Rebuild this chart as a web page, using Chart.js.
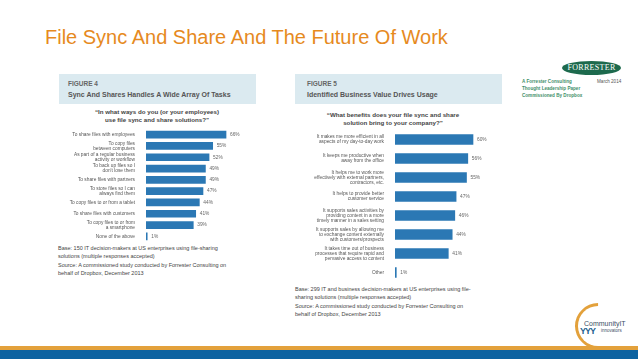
<!DOCTYPE html>
<html>
<head>
<meta charset="utf-8">
<script src="https://cdn.jsdelivr.net/npm/chart.js@4.4.1/dist/chart.umd.min.js"></script>
<style>
  body { margin: 0; width: 638px; height: 359px; background: #fff; position: relative; overflow: hidden;
         font-family: "Liberation Sans", Arial, sans-serif; }
  .abs { position: absolute; }
  #title { left: 45px; top: 26px; font-size: 20px; color: #e68a1e; white-space: nowrap; }
  .figbox { background: #dbeaf0; }
  .fignum { font-size: 6.5px; font-weight: bold; color: #666; white-space: nowrap; }
  .figttl { font-size: 7px; font-weight: bold; color: #555; white-space: nowrap; }
  .question { font-size: 6.2px; font-weight: bold; color: #444; text-align: center; line-height: 8px; white-space: nowrap; }
  .note { font-size: 5.5px; color: #444; line-height: 8.2px; white-space: nowrap; }
  #forr { left: 562px; top: 61px; width: 59px; height: 14px; border-radius: 50%; background: #1d6a4d;
          color: #fff; font-family: "Liberation Serif", serif; font-size: 8px; text-align: center; line-height: 14px; letter-spacing: 0.3px; }
  .forrsub { font-size: 4.6px; color: #3f8f6a; font-weight: bold; white-space: nowrap; }
  #ring { left: 575px; top: 303px; width: 40px; height: 40px; border-radius: 50%; border: 3px solid #e3a13b;
          border-right-color: transparent; border-top-color: transparent; transform: rotate(45deg); }
</style>
</head>
<body>
<div id="title" class="abs">File Sync And Share And The Future Of Work</div>

<div class="abs figbox" style="left:59px;top:74px;width:197px;height:30px;"></div>
<div class="abs fignum" style="left:68px;top:80px;">FIGURE 4</div>
<div class="abs figttl" style="left:68px;top:91px;">Sync And Shares Handles A Wide Array Of Tasks</div>
<div class="abs question" style="left:77px;top:108px;width:160px;">“In what ways do you (or your employees)<br>use file sync and share solutions?”</div>
<div class="abs" style="left:60px;top:129px;width:200px;height:113px;"><canvas id="fig4"></canvas></div>
<div class="abs note" style="left:58px;top:244px;">Base: 150 IT decision-makers at US enterprises using file-sharing<br>solutions (multiple responses accepted)</div>
<div class="abs note" style="left:58px;top:261px;">Source: A commissioned study conducted by Forrester Consulting on<br>behalf of Dropbox, December 2013</div>

<div class="abs figbox" style="left:295px;top:74px;width:207px;height:30px;"></div>
<div class="abs fignum" style="left:307px;top:80px;">FIGURE 5</div>
<div class="abs figttl" style="left:307px;top:91px;">Identified Business Value Drives Usage</div>
<div class="abs question" style="left:313px;top:111px;width:160px;">“What benefits does your file sync and share<br>solution bring to your company?”</div>
<div class="abs" style="left:300px;top:130px;width:219px;height:152px;"><canvas id="fig5"></canvas></div>
<div class="abs note" style="left:295px;top:285px;">Base: 299 IT and business decision-makers at US enterprises using file-<br>sharing solutions (multiple responses accepted)</div>
<div class="abs note" style="left:295px;top:302px;">Source: A commissioned study conducted by Forrester Consulting on<br>behalf of Dropbox, December 2013</div>

<div id="forr" class="abs">FORRESTER</div>
<div class="abs forrsub" style="left:522px;top:79px;">A Forrester Consulting</div>
<div class="abs forrsub" style="left:522px;top:86px;">Thought Leadership Paper</div>
<div class="abs forrsub" style="left:522px;top:93px;">Commissioned By Dropbox</div>
<div class="abs forrsub" style="left:597px;top:79px;color:#555;font-weight:normal;">March 2014</div>

<div id="ring" class="abs"></div>
<div class="abs" style="left:584px;top:320px;font-size:7px;color:#3b4f66;">CommunityIT</div>
<div class="abs" style="left:601px;top:328px;font-size:4.5px;color:#3b4f66;">innovators</div>
<div class="abs" style="left:580px;top:326px;font-size:9px;font-weight:bold;color:#1f5f8f;letter-spacing:-1px;">YYY</div>

<div class="abs" style="left:0;top:346px;width:638px;height:4px;background:#e3a13b;"></div>
<div class="abs" style="left:0;top:350px;width:638px;height:9px;background:#0d63a1;"></div>

<script>
// figure 4
const tasks = [
  'To share files with employees',
  ['To copy files', 'between computers'],
  ['As part of a regular business', 'activity or workflow'],
  ['To back up files so I', "don't lose them"],
  'To share files with partners',
  ['To store files so I can', 'always find them'],
  'To copy files to or from a tablet',
  'To share files with customers',
  ['To copy files to or from', 'a smartphone'],
  'None of the above'
];
const taskShares = [66, 55, 52, 49, 49, 47, 44, 41, 39, 1];

// figure 5
const benefits = [
  ['It makes me more efficient in all', 'aspects of my day-to-day work'],
  ['It keeps me productive when', 'away from the office'],
  ['It helps me to work more', 'effectively with external partners,', 'contractors, etc.'],
  ['It helps to provide better', 'customer service'],
  ['It supports sales activities by', 'providing content in a more', 'timely manner in a sales setting'],
  ['It supports sales by allowing me', 'to exchange content externally', 'with customers/prospects'],
  ['It takes time out of business', 'processes that require rapid and', 'pervasive access to content'],
  'Other'
];
const benefitShares = [60, 56, 55, 47, 46, 44, 41, 1];

const barColor = '#2b78b4';
const fontFam = '"Liberation Sans", Arial, sans-serif';

// puts "66%" after each bar
const valueLabels = {
  id: 'valueLabels',
  afterDatasetsDraw(chart) {
    const ctx = chart.ctx;
    const ds = chart.data.datasets[0];
    ctx.save();
    ctx.font = '4.8px ' + fontFam;
    ctx.fillStyle = '#666';
    ctx.textBaseline = 'middle';
    chart.getDatasetMeta(0).data.forEach((bar, i) => {
      ctx.fillText(ds.data[i] + '%', bar.x + 4, bar.y);
    });
    ctx.restore();
  }
};

function makeChart(id, labels, values, axisWidth, thickness, padRight) {
  return new Chart(document.getElementById(id), {
    type: 'bar',
    data: {
      labels: labels,
      datasets: [{ data: values, backgroundColor: barColor, barThickness: thickness }]
    },
    options: {
      indexAxis: 'y',
      responsive: true,
      maintainAspectRatio: false,
      animation: false,
      layout: { padding: { right: padRight } },
      plugins: { legend: { display: false }, tooltip: { enabled: false } },
      scales: {
        x: { display: false, min: 0, max: 80 },
        y: {
          grid: { display: false },
          border: { display: false },
          afterFit(scale) {
            scale.width = axisWidth;
            // let the rows use the full height, labels may overhang
            scale.paddingTop = 0;
            scale.paddingBottom = 0;
          },
          ticks: {
            autoSkip: false,
            padding: 3,
            color: '#555',
            font: { family: fontFam, size: 4.8, lineHeight: 1.05 }
          }
        }
      }
    },
    plugins: [valueLabels]
  });
}

makeChart('fig4', tasks, taskShares, 86, 7, 17);
makeChart('fig5', benefits, benefitShares, 95, 10, 20);
</script>
</body>
</html>
